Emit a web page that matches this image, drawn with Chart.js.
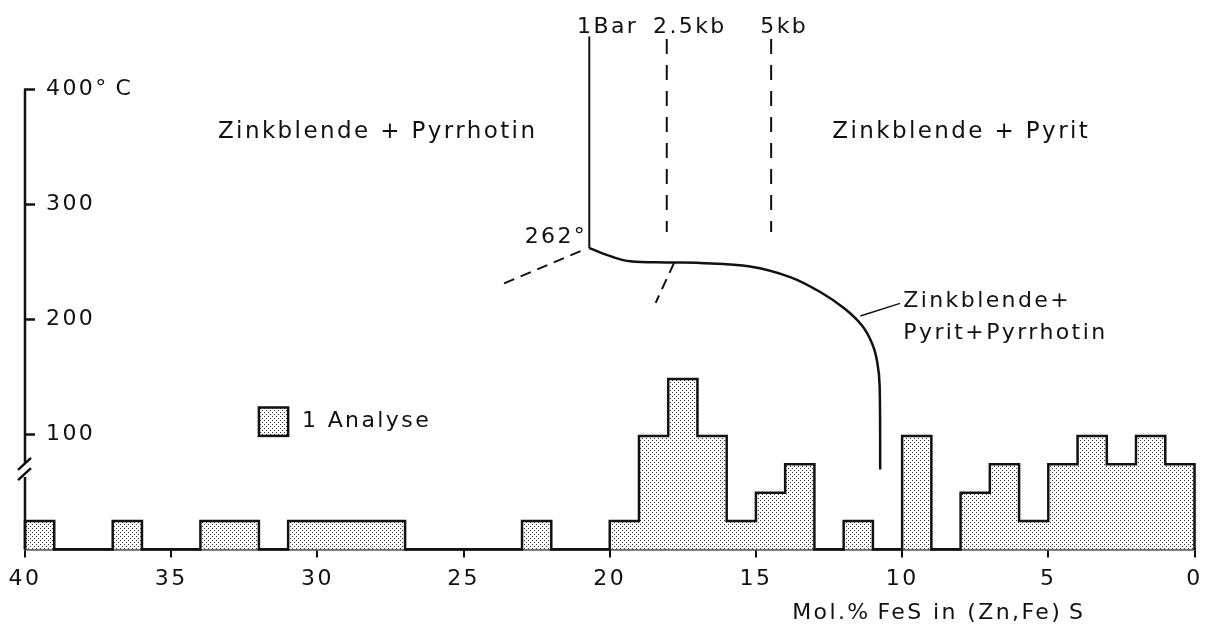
<!DOCTYPE html>
<html>
<head>
<meta charset="utf-8">
<script src="https://cdn.jsdelivr.net/npm/chart.js@4.4.1/dist/chart.umd.min.js"></script>
<style>
  html, body { margin: 0; padding: 0; background: #fff; }
  #box { width: 1213px; height: 626px; }
</style>
</head>
<body>
<div id="box"><canvas id="fes-chart"></canvas></div>
<script>
// Histogramm: Anzahl Analysen je 1 Mol.% FeS (Klasse von binLeft bis binLeft-1)
var binLeft = [40,39,38,37,36,35,34,33,32,31,30,29,28,27,26,25,24,23,22,21,
               20,19,18,17,16,15,14,13,12,11,10,9,8,7,6,5,4,3,2,1];
var analyses = [1,0,0,1,0,0,1,1,0,1,1,1,1,0,0,0,0,1,0,0,
                1,4,6,4,1,2,3,0,1,0,4,0,2,3,1,3,4,3,4,3];

var xTicks = [40,35,30,25,20,15,10,5,0];
var yTicks = [100,200,300,400];

// Phasengrenzen, x = Mol.% FeS, y = Temperatur in °C
var bar1Line = [{x:20.7,y:446},{x:20.7,y:262}];
var kb25Line = [{x:18.05,y:444},{x:18.05,y:276}];
var kb5Line = [{x:14.48,y:444},{x:14.48,y:276}];
var solvus = [
  {x:20.7,y:262},{x:19.87,y:254.1},{x:19.3,y:250.6},{x:18.05,y:249.6},
  {x:16.91,y:249.2},{x:15.2,y:246.1},{x:13.83,y:236.9},{x:12.8,y:223.9},
  {x:11.95,y:209.1},{x:11.36,y:194.3},{x:11.02,y:178.7},{x:10.85,y:162.9},
  {x:10.77,y:143},{x:10.75,y:69.6}
];
var metaLeft = [{x:21.0,y:259.5},{x:23.7,y:230.5}];
var metaMid = [{x:17.8,y:249.3},{x:18.43,y:214.5}];
var leader = [{x:11.43,y:203},{x:10.07,y:214}];

var FONT = '"DejaVu Sans", sans-serif';
var TMAX = 460;
var countMax = TMAX * 1.15 / 28.4;   // 1 Analyse = ein Kaestchen

// Punktraster wie im Original
function stipple() {
  var c = document.createElement('canvas');
  c.width = 4; c.height = 4;
  var g = c.getContext('2d');
  g.fillStyle = '#fff';
  g.fillRect(0, 0, 4, 4);
  g.fillStyle = '#333';
  g.fillRect(0, 0, 1, 1);
  g.fillRect(2, 2, 1, 1);
  return g.createPattern(c, 'repeat');
}
var dots = stipple();

var histBars = binLeft.map(function (b, i) { return {x: b - 0.5, y: analyses[i]}; });
var histOutline = [{x: binLeft[0], y: 0}];
binLeft.forEach(function (b, i) { histOutline.push({x: b, y: analyses[i]}); });
histOutline.push({x: 0, y: 0});

// Beschriftungen
var texts = [
  {text: 'Zinkblende + Pyrrhotin', x: 33.4, y: 363, align: 'left', size: 23},
  {text: 'Zinkblende + Pyrit', x: 12.39, y: 363, align: 'left', size: 23},
  {text: '1Bar', x: 21.12, y: 454.3, align: 'left', size: 22},
  {text: '2.5kb', x: 18.52, y: 454.3, align: 'left', size: 22},
  {text: '5kb', x: 14.85, y: 454.3, align: 'left', size: 22},
  {text: '262°', x: 20.77, y: 271.7, align: 'right', size: 22},
  {text: 'Zinkblende+', x: 9.96, y: 215.5, align: 'left', size: 22},
  {text: 'Pyrit+Pyrrhotin', x: 9.96, y: 188.3, align: 'left', size: 22},
  {text: 'Mol.%\u2009FeS in (Zn,Fe)\u2009S', x: 13.76, y: -55.2, align: 'left', size: 22}
];

function line(data, width, dash) {
  return {
    type: 'line', data: data, yAxisID: 'y',
    borderColor: '#111', borderWidth: width, borderDash: dash || [],
    pointRadius: 0, fill: false, tension: 0, clip: false, order: 0
  };
}

var solvusSet = line(solvus, 2.5);
solvusSet.tension = 0.35;

var figure = {
  id: 'figure',
  beforeDraw: function (chart) {
    chart.ctx.letterSpacing = '2.4px';
  },
  afterDraw: function (chart) {
    var ctx = chart.ctx;
    var xs = chart.scales.x, ys = chart.scales.y, yc = chart.scales.yc;
    var area = chart.chartArea;
    var ax = area.left;
    ctx.save();
    ctx.strokeStyle = '#111';
    ctx.lineWidth = 2.5;
    ctx.beginPath();
    ctx.moveTo(ax, ys.getPixelForValue(400));
    ctx.lineTo(ax, ys.getPixelForValue(75));
    ctx.moveTo(ax, ys.getPixelForValue(63));
    ctx.lineTo(ax, area.bottom);
    yTicks.forEach(function (t) {
      var py = ys.getPixelForValue(t);
      ctx.moveTo(ax - 1, py);
      ctx.lineTo(ax + 10, py);
    });
    [74.5, 65.5].forEach(function (t) {
      var py = ys.getPixelForValue(t);
      ctx.moveTo(ax - 7, py + 6);
      ctx.lineTo(ax + 6, py - 6);
    });
    ctx.stroke();

    // Legende "1 Analyse"
    var l = xs.getPixelForValue(32), r = xs.getPixelForValue(31);
    var t = yc.getPixelForValue(5), b = yc.getPixelForValue(4);
    ctx.fillStyle = dots;
    ctx.fillRect(l, t, r - l, b - t);
    ctx.strokeRect(l, t, r - l, b - t);

    ctx.fillStyle = '#111';
    ctx.font = '22px ' + FONT;
    ctx.textBaseline = 'middle';
    ctx.textAlign = 'left';
    ctx.fillText('1 Analyse', xs.getPixelForValue(30.53), yc.getPixelForValue(4.5));

    texts.forEach(function (d) {
      ctx.font = d.size + 'px ' + FONT;
      ctx.textAlign = d.align;
      ctx.fillText(d.text, xs.getPixelForValue(d.x), ys.getPixelForValue(d.y));
    });
    ctx.restore();
  }
};

var ctx = document.getElementById('fes-chart').getContext('2d');
var myChart = new Chart(ctx, {
  type: 'line',
  data: {
    datasets: [
      {
        type: 'bar', data: histBars, yAxisID: 'yc',
        backgroundColor: dots, borderWidth: 0,
        categoryPercentage: 1, barPercentage: 1, order: 2
      },
      {
        type: 'line', data: histOutline, yAxisID: 'yc', stepped: true,
        borderColor: '#111', borderWidth: 2.5, pointRadius: 0,
        fill: false, clip: false, order: 1
      },
      line(bar1Line, 2),
      line(kb25Line, 2, [15, 11]),
      line(kb5Line, 2, [15, 11]),
      solvusSet,
      line(metaLeft, 2, [11, 7]),
      line(metaMid, 2, [11, 7]),
      line(leader, 1.5)
    ]
  },
  options: {
    responsive: true,
    maintainAspectRatio: false,
    animation: false,
    layout: { padding: { left: 25, right: 18.5, top: 20.5, bottom: 0 } },
    plugins: {
      legend: { display: false },
      tooltip: { enabled: false }
    },
    scales: {
      x: {
        type: 'linear', reverse: true, min: 0, max: 40, offset: false,
        afterFit: function (s) { s.height = 76.5; s.paddingLeft = 0; s.paddingRight = 0; },
        afterBuildTicks: function (s) { s.ticks = xTicks.map(function (v) { return {value: v}; }); },
        grid: { display: true, drawOnChartArea: false, drawTicks: true, tickLength: 8,
                color: '#111', lineWidth: 2, offset: false },
        border: { display: true, color: '#111', width: 2.5 },
        ticks: { color: '#111', padding: 9, maxRotation: 0, font: { family: FONT, size: 22 } }
      },
      y: {
        type: 'linear', position: 'left', min: 0, max: TMAX,
        afterFit: function (s) { s.width = 0; s.paddingTop = 0; s.paddingBottom = 0; },
        afterBuildTicks: function (s) { s.ticks = yTicks.map(function (v) { return {value: v}; }); },
        grid: { display: false },
        border: { display: false },
        ticks: {
          mirror: true, padding: 21, color: '#111', font: { family: FONT, size: 22 },
          callback: function (v) { return v === 400 ? '400°\u2009C' : String(v); }
        }
      },
      yc: {
        type: 'linear', display: false, min: 0, max: countMax
      }
    }
  },
  plugins: [figure]
});
</script>
</body>
</html>
